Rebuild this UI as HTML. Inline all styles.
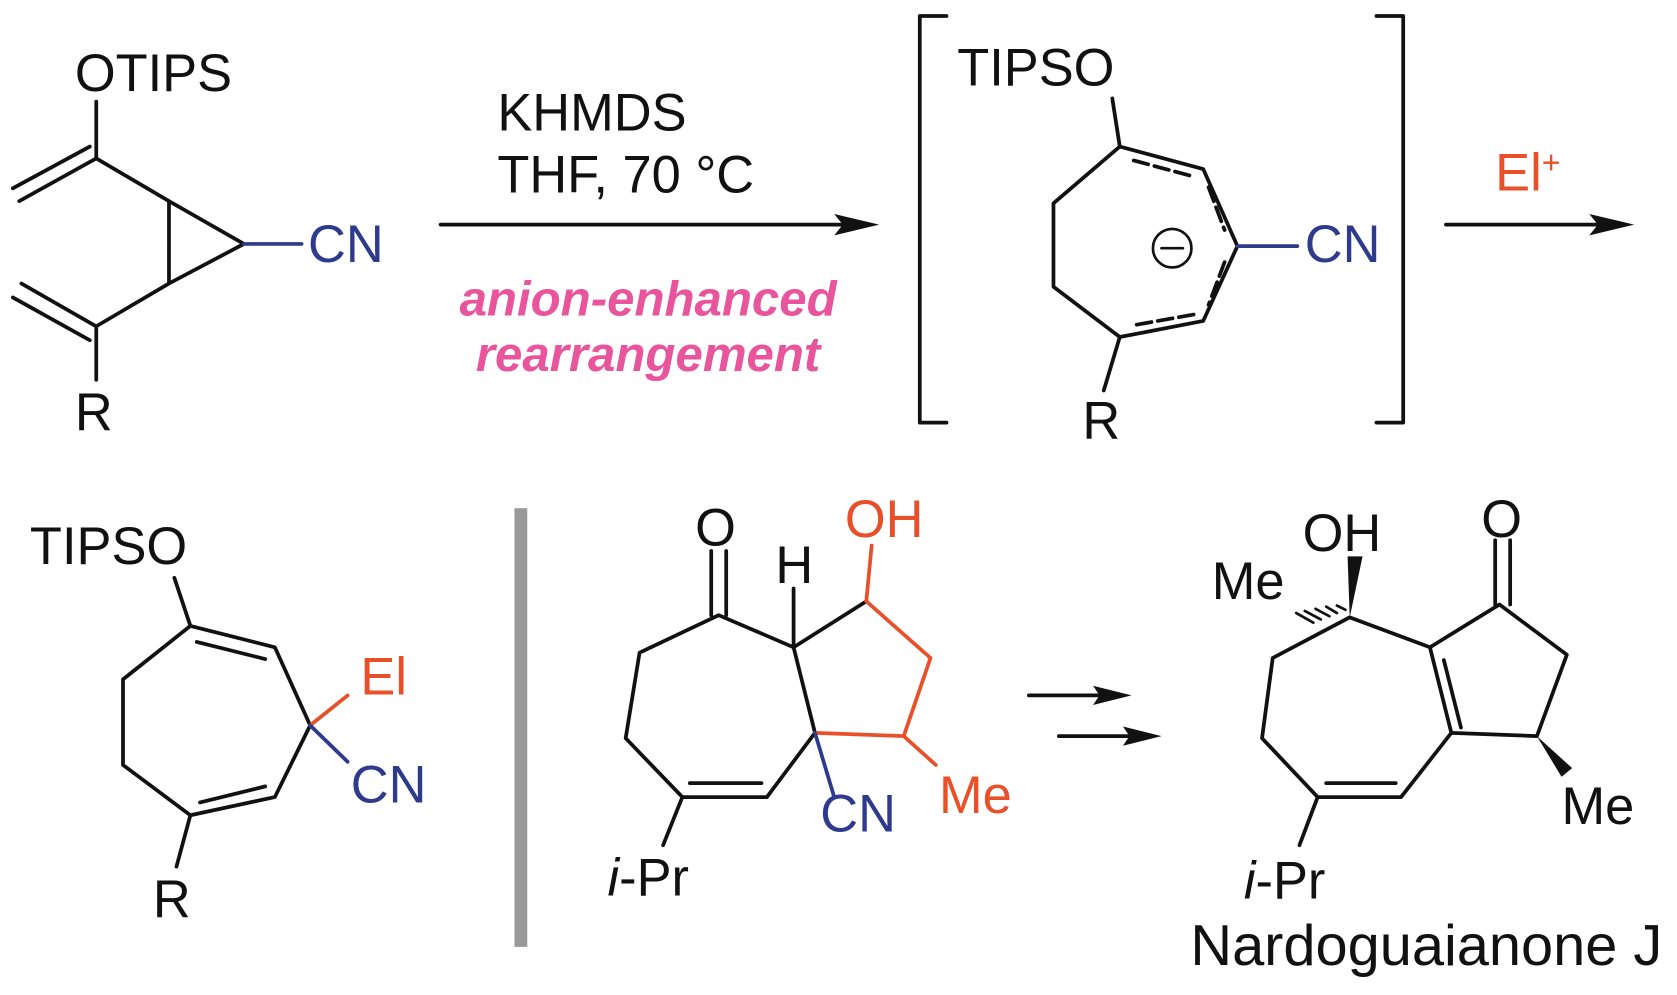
<!DOCTYPE html>
<html><head><meta charset="utf-8"><style>
html,body{margin:0;padding:0;background:#fff;}
svg{display:block;}
text{font-family:"Liberation Sans",sans-serif;font-size:49px;fill:#111;}
.b{fill:#2e3a8c}.o{fill:#e8502a}
</style></head><body>
<svg width="1677" height="995" viewBox="0 0 1568 930" preserveAspectRatio="none" xmlns="http://www.w3.org/2000/svg">
<g stroke="#111" stroke-width="3.5" fill="none" stroke-linecap="round" stroke-linejoin="round">
<!-- structure 1 -->
<path d="M90,95 L90,148 M158,188 L158,265 L228,228 Z M90,148 L158,188 M90,148 L18,188 M84,137 L12,176 M158,265 L90,305 L20,265 M84,318 L12,278 M90,305 L90,355"/>
<path d="M228,228 L282,228" stroke="#2e3a8c"/>
<path d="M412,210 L790,210"/>
<path d="M885,15 L860,15 L860,395 L885,395 M1287,15 L1312,15 L1312,395 L1287,395"/>
<!-- structure 2 -->
<path d="M1040,92 L1047,137 M1047,137 L1125,158 L1157,230 L1125,300 L1047,315 L985,268 L985,190 Z"/>
<path d="M1060,150 L1116,165 M1130,175 L1145,215 M1145,245 L1130,285 M1116,294 L1060,304" stroke-dasharray="14 6"/>
<path d="M1157,230 L1213,230" stroke="#2e3a8c"/>
<circle cx="1096" cy="232" r="18" stroke-width="2.5"/>
<path d="M1086,232 L1106,232" stroke-width="2.5"/>
<path d="M1047,315 L1032,365"/>
<path d="M1352,210 L1500,210"/>
<!-- structure 3 -->
<path d="M163,540 L178,585 M178,585 L257,605 L290,678 L257,745 L178,762 L115,715 L115,635 Z M184,600 L248,616 M187,750 L248,735 M178,762 L165,810"/>
<path d="M290,678 L325,650" stroke="#e8502a"/>
<path d="M290,678 L325,712" stroke="#2e3a8c"/>
<!-- structure 4 -->
<path d="M665,515 L665,575 M679,515 L679,575 M672,575 L742,605 L762,685 L717,745 L638,745 L585,690 L598,610 Z M645,732 L712,732 M742,605 L742,550 M742,605 L810,562 M638,745 L620,790"/>
<path d="M810,562 L870,615 L845,688 L762,685 M810,562 L815,510 M845,688 L875,715" stroke="#e8502a"/>
<path d="M762,685 L780,745" stroke="#2e3a8c"/>
<path d="M962,650 L1030,650 M990,688 L1058,688"/>
<!-- structure 5 -->
<path d="M1262,577 L1337,605 L1357,685 L1310,745 L1232,745 L1180,690 L1190,615 Z M1350,617 L1366,680 M1240,732 L1305,732 M1232,745 L1215,790 M1337,605 L1402,565 L1465,612 L1437,688 L1357,685 M1398,505 L1398,565 M1412,505 L1412,565"/>
<path d="M1258,570 L1250,566 M1250,573 L1240,567 M1243,576 L1230,569 M1235,579 L1220,571 M1228,582 L1212,573" stroke-width="2.5"/>
</g>
<g fill="#111">
<path d="M822,210 L780,200 L788,210 L780,220 Z"/>
<path d="M1528,210 L1486,200 L1494,210 L1486,220 Z"/>
<path d="M1058,650 L1022,641 L1028,650 L1022,659 Z"/>
<path d="M1086,688 L1050,679 L1056,688 L1050,697 Z"/>
<path d="M1262,577 L1260,520 L1274,520 Z"/>
<path d="M1437,688 L1470,718 L1460,726 Z"/>
</g>
<rect x="481" y="475" width="12" height="410" fill="#999"/>
<text x="70" y="85">OTIPS</text>
<text class="b" x="288" y="245">CN</text>
<text x="70" y="402">R</text>
<text x="465" y="122">KHMDS</text>
<text x="465" y="180">THF, 70 °C</text>
<text x="606" y="295" text-anchor="middle" style="fill:#e8559c;font-style:italic;font-weight:bold;font-size:46px">anion-enhanced</text>
<text x="606" y="347" text-anchor="middle" style="fill:#e8559c;font-style:italic;font-weight:bold;font-size:46px">rearrangement</text>
<text x="895" y="80">TIPSO</text>
<text class="b" x="1220" y="245">CN</text>
<text x="1012" y="410">R</text>
<text class="o" x="1398" y="178">El<tspan dy="-16" font-size="30">+</tspan></text>
<text x="28" y="527">TIPSO</text>
<text class="o" x="337" y="649">El</text>
<text class="b" x="328" y="750">CN</text>
<text x="143" y="857">R</text>
<text x="650" y="510">O</text>
<text x="725" y="545">H</text>
<text class="o" x="790" y="502">OH</text>
<text class="b" x="767" y="777">CN</text>
<text class="o" x="878" y="760">Me</text>
<text x="568" y="837"><tspan font-style="italic">i</tspan>-Pr</text>
<text x="1218" y="515">OH</text>
<text x="1385" y="502">O</text>
<text x="1133" y="560">Me</text>
<text x="1460" y="770">Me</text>
<text x="1163" y="840"><tspan font-style="italic">i</tspan>-Pr</text>
<text x="1113" y="902" style="font-size:54px">Nardoguaianone J</text>
</svg>
</body></html>
